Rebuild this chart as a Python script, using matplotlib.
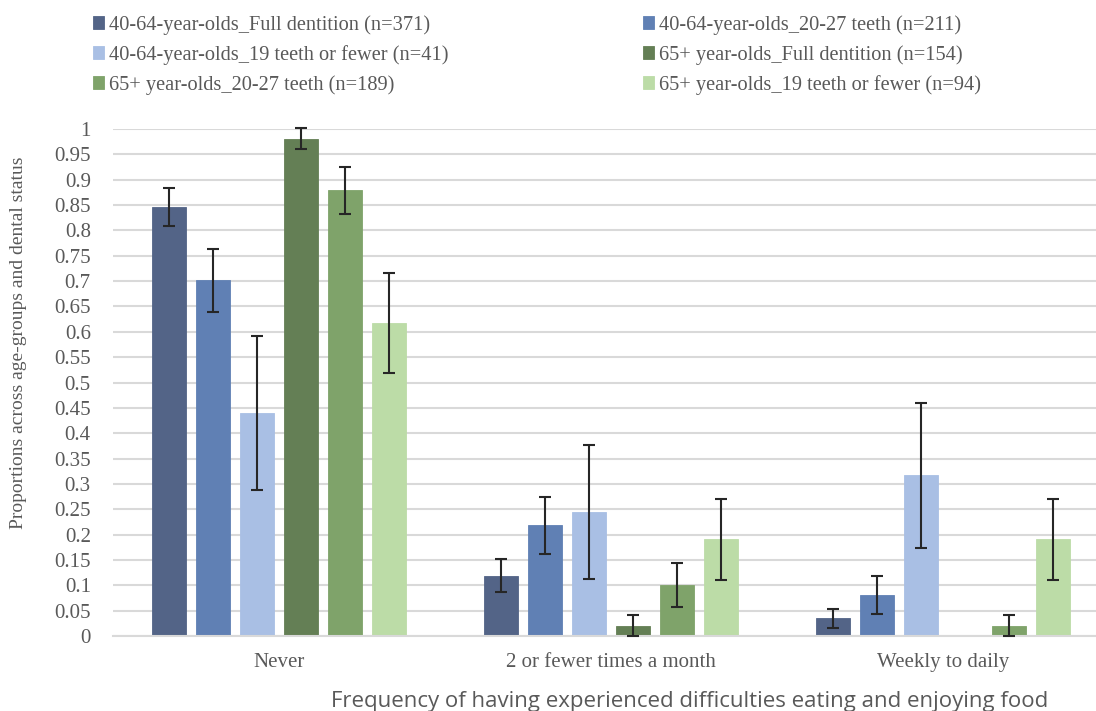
import numpy as np
import matplotlib
matplotlib.use("Agg")
import matplotlib.pyplot as plt

plt.rcParams["font.family"] = ["Liberation Serif", "DejaVu Serif"]

categories = ["Never", "2 or fewer times a month", "Weekly to daily"]
series_names = [
    "40-64-year-olds_Full dentition (n=371)",
    "40-64-year-olds_20-27 teeth (n=211)",
    "40-64-year-olds_19 teeth or fewer (n=41)",
    "65+ year-olds_Full dentition (n=154)",
    "65+ year-olds_20-27 teeth (n=189)",
    "65+ year-olds_19 teeth or fewer (n=94)",
]
values = [
    [0.846, 0.119, 0.035],
    [0.702, 0.218, 0.081],
    [0.440, 0.244, 0.317],
    [0.981, 0.019, 0.000],
    [0.879, 0.101, 0.020],
    [0.617, 0.191, 0.191],
]
errors = [
    [0.037, 0.033, 0.019],
    [0.062, 0.056, 0.037],
    [0.152, 0.132, 0.143],
    [0.020, 0.022, 0.000],
    [0.047, 0.043, 0.021],
    [0.098, 0.080, 0.080],
]
colors = ["#536487", "#6080b4", "#a9bfe4", "#647f55", "#7fa36a", "#bcdca7"]
yticks = np.round(np.arange(0, 1.0001, 0.05), 2)
ytick_labels = [("%g" % v) for v in yticks]

W, H = 1096, 711
fig = plt.figure(figsize=(W / 100, H / 100), dpi=100)
ax = fig.add_axes([113 / W, 1 - 636 / H, (1109 - 113) / W, (636 - 129) / H])

serif = ["Liberation Serif", "DejaVu Serif"]
gray = "#595959"

x = np.arange(len(categories))
step = 0.1325
width = 0.105
handles = []
for i, (vals, errs, c) in enumerate(zip(values, errors, colors)):
    xs = x + (i - 2.5) * step
    b = ax.bar(xs, vals, width, color=c, edgecolor=c, linewidth=0.6, zorder=2,
               label=series_names[i])
    handles.append(b)
    v = np.array(vals); e = np.array(errs)
    m = e > 0
    lower = np.minimum(e[m], v[m])
    ax.errorbar(xs[m], v[m], yerr=[lower, e[m]], fmt="none", ecolor="#262626",
                elinewidth=1.5, capsize=4, capthick=1.5, zorder=3, clip_on=False)

ax.set_xlim(-0.5, 2.5)
ax.set_ylim(0, 1)
ax.set_yticks(yticks)
ax.set_yticklabels(ytick_labels, fontfamily=serif, fontsize=15, color=gray)
ax.set_xticks(x)
ax.set_xticklabels(categories, fontfamily=serif, fontsize=15, color=gray)
ax.tick_params(axis="y", length=0, pad=16)
ax.tick_params(axis="x", length=0, pad=12)
ax.yaxis.grid(True, color="#d9d9d9", linewidth=1.5, zorder=0)
ax.set_axisbelow(True)
for s in ["left", "right", "top"]:
    ax.spines[s].set_visible(False)
ax.spines["bottom"].set_color("#d9d9d9")
ax.spines["bottom"].set_linewidth(1.5)

fig.text(19 / W, 1 - 343 / H, "Proportions across age-groups and dental status",
         rotation=90, ha="center", va="center", fontfamily=serif, fontsize=14, color=gray)
fig.text(690 / W, 1 - 701 / H,
         "Frequency of having experienced difficulties eating and enjoying food",
         ha="center", va="center", fontfamily=["Open Sans", "DejaVu Sans"], fontsize=16, color=gray)

order = [0, 2, 4, 1, 3, 5]
leg = fig.legend([handles[k] for k in order], [series_names[k] for k in order],
                 ncol=2, loc="upper left", bbox_to_anchor=(93 / W, 1 - 15 / H),
                 frameon=False, prop={"family": serif, "size": 14.7},
                 handlelength=0.55, handleheight=0.55, handletextpad=0.25,
                 columnspacing=9.5, labelspacing=0.5, borderpad=0, borderaxespad=0)
for t in leg.get_texts():
    t.set_color(gray)

fig.savefig("out.png", dpi=100)
